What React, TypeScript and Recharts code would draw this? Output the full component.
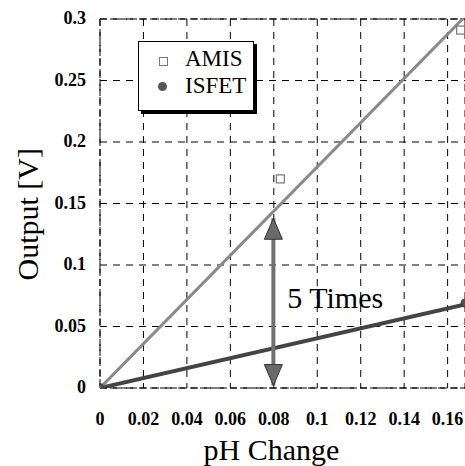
import {
  ComposedChart,
  Line,
  Scatter,
  XAxis,
  YAxis,
  CartesianGrid,
  ReferenceLine,
} from "recharts";

// measured points
const amisX = [0, 0.083, 0.166];
const amisY = [0, 0.17, 0.291];
const isfetX = [0, 0.168];
const isfetY = [0, 0.069];

// fitted lines (end points)
const amisFitX = [0, 0.168];
const amisFitY = [0, 0.302];
const isfetFitX = [0, 0.168];
const isfetFitY = [0, 0.068];

// double arrow between the two lines
const arrowX = [0.0798, 0.0798];
const arrowY = [0.002, 0.138];

// "5 Times" note
const noteX = [0.0862];
const noteY = [0.071];
const noteText = ["5 Times"];

const xTicks = [0, 0.02, 0.04, 0.06, 0.08, 0.1, 0.12, 0.14, 0.16];
const yTicks = [0, 0.05, 0.1, 0.15, 0.2, 0.25, 0.3];

const zip = (xs: number[], ys: number[]) => xs.map((x, i) => ({ x, y: ys[i] }));

const amisData = zip(amisX, amisY);
const isfetData = zip(isfetX, isfetY);
const amisFit = zip(amisFitX, amisFitY);
const isfetFit = zip(isfetFitX, isfetFitY);
const arrowData = zip(arrowX, arrowY);
const noteData = noteX.map((x, i) => ({ x, y: noteY[i], text: noteText[i] }));

const serif = "'Times New Roman', 'Liberation Serif', serif";

function SquareMark(props: any) {
  const { cx, cy } = props;
  return (
    <rect x={cx - 4} y={cy - 4} width={8} height={8} fill="#fff" stroke="#777" strokeWidth={1.2} />
  );
}

function DotMark(props: any) {
  const { cx, cy } = props;
  return <circle cx={cx} cy={cy} r={4} fill="#555" stroke="#333" strokeWidth={1} />;
}

function ArrowHead(props: any) {
  const { cx, cy, index } = props;
  if (cx == null || cy == null) return null;
  // bottom head points down, top head points up
  const d = index === 0 ? 1 : -1;
  const pts = `${cx},${cy} ${cx - 9},${cy - d * 21} ${cx + 9},${cy - d * 21}`;
  return <polygon key={index} points={pts} fill="#6a6a6a" stroke="#333" strokeWidth={1} />;
}

function NoteText(props: any) {
  const { cx, cy, payload } = props;
  return (
    <text x={cx} y={cy + 7} style={{ fontFamily: serif }} fontSize={30} fill="#000">
      {payload.text}
    </text>
  );
}

function YTick(props: any) {
  const { x, y, payload } = props;
  return (
    <text
      x={x - 6}
      y={y + 5}
      textAnchor="end"
      style={{ fontFamily: serif, fontWeight: 700 }}
      fontSize={18}
      fill="#000"
    >
      {payload.value}
    </text>
  );
}

function XTick(props: any) {
  const { x, y, payload } = props;
  return (
    <text
      x={x}
      y={y + 29}
      textAnchor="middle"
      style={{ fontFamily: serif, fontWeight: 700 }}
      fontSize={18}
      fill="#000"
    >
      {payload.value}
    </text>
  );
}

export default function App() {
  return (
    <div style={{ position: "absolute", left: 0, top: 0, width: 465, height: 466, background: "#fff" }}>
      <ComposedChart
        width={465}
        height={466}
        margin={{ top: 19, right: 0, left: 0, bottom: 0 }}
      >
        <CartesianGrid stroke="#000" strokeDasharray="7 6" strokeWidth={1} />
        <XAxis
          type="number"
          dataKey="x"
          domain={[0, 0.168]}
          ticks={xTicks}
          allowDataOverflow
          height={78}
          tick={<XTick />}
          tickLine={false}
          axisLine={{ stroke: "#000", strokeDasharray: "7 3" }}
          label={{
            value: "pH Change",
            position: "insideBottom",
            offset: 6,
            dx: -11,
            fontFamily: serif,
            fontSize: 30,
            fill: "#000",
          }}
        />
        <YAxis
          type="number"
          dataKey="y"
          domain={[0, 0.3]}
          ticks={yTicks}
          allowDataOverflow
          width={100}
          tick={<YTick />}
          tickLine={false}
          axisLine={{ stroke: "#000", strokeDasharray: "7 3" }}
          label={{
            value: "Output [V]",
            angle: -90,
            position: "insideLeft",
            offset: 27,
            dy: 77,
            fontFamily: serif,
            fontSize: 30,
            fill: "#000",
          }}
        />
        <ReferenceLine y={0.3} stroke="#000" strokeDasharray="7 3" />

        <Line
          data={amisFit}
          dataKey="y"
          type="linear"
          stroke="#8a8a8a"
          strokeWidth={3}
          dot={false}
          isAnimationActive={false}
          legendType="none"
        />
        <Line
          data={isfetFit}
          dataKey="y"
          type="linear"
          stroke="#444"
          strokeWidth={4}
          dot={false}
          isAnimationActive={false}
          legendType="none"
        />
        <Line
          data={arrowData}
          dataKey="y"
          type="linear"
          stroke="#707070"
          strokeWidth={4}
          dot={<ArrowHead />}
          isAnimationActive={false}
          legendType="none"
        />
        <Scatter data={amisData} dataKey="y" shape={<SquareMark />} isAnimationActive={false} />
        <Scatter data={isfetData} dataKey="y" shape={<DotMark />} isAnimationActive={false} />
        <Scatter data={noteData} dataKey="y" shape={<NoteText />} isAnimationActive={false} />
      </ComposedChart>

      {/* legend box with a drop shadow */}
      <div
        style={{
          position: "absolute",
          left: 138,
          top: 41,
          width: 114,
          height: 68,
          border: "1.5px solid #000",
          boxShadow: "3px 3px 0 #000",
          background: "#fff",
          fontFamily: serif,
          fontSize: 23,
          color: "#000",
        }}
      >
        <div style={{ position: "absolute", left: 20, top: 15, width: 7, height: 7, border: "1.2px solid #777" }} />
        <div style={{ position: "absolute", left: 46, top: 4, lineHeight: "26px" }}>AMIS</div>
        <div
          style={{
            position: "absolute",
            left: 19,
            top: 40,
            width: 9,
            height: 9,
            borderRadius: "50%",
            background: "#555",
          }}
        />
        <div style={{ position: "absolute", left: 46, top: 31, lineHeight: "26px" }}>ISFET</div>
      </div>
    </div>
  );
}
